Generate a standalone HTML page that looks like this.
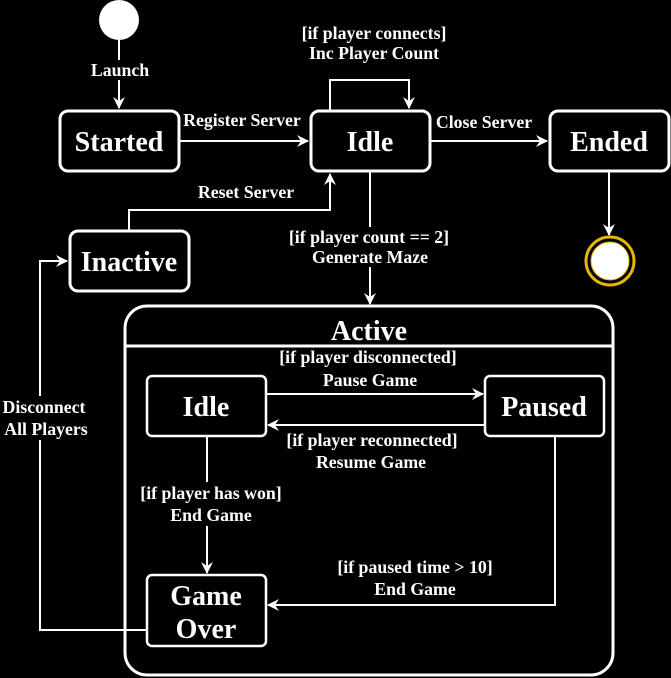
<!DOCTYPE html>
<html><head><meta charset="utf-8"><style>
html,body{margin:0;padding:0;background:#000;}
svg{display:block}
text{font-family:"Liberation Serif",serif;font-weight:bold;fill:#fff;text-anchor:middle}
.s{font-size:17.8px}
.b{font-size:28px}
</style></head><body>
<svg width="671" height="678" viewBox="0 0 671 678" xmlns="http://www.w3.org/2000/svg">
<defs>
<marker id="a" markerWidth="12" markerHeight="12" refX="11" refY="6" orient="auto" markerUnits="userSpaceOnUse">
<path d="M0,0 L12,6 L0,12 L4,6 Z" fill="#fff"/>
</marker>
</defs>
<g stroke="#fff" fill="none" stroke-width="2">
<circle cx="119" cy="20" r="20" fill="#fff" stroke="none"/>
<line x1="119" y1="40" x2="119" y2="108" marker-end="url(#a)"/>
<rect x="60" y="111" width="119" height="60" rx="8" stroke-width="3"/>
<rect x="311" y="111" width="119" height="60" rx="8" stroke-width="3"/>
<rect x="550" y="111" width="119" height="60" rx="8" stroke-width="3"/>
<rect x="70" y="231" width="119" height="60" rx="8" stroke-width="3"/>
<circle cx="610" cy="261" r="24" stroke="#e6b800" stroke-width="3" fill="#000"/>
<circle cx="610" cy="261" r="19" fill="#fff" stroke="#e6b800" stroke-width="1"/>
<line x1="179" y1="141" x2="308" y2="141" marker-end="url(#a)"/>
<polyline points="330,111 330,80 409,80 409,108" marker-end="url(#a)"/>
<line x1="430" y1="141" x2="547" y2="141" marker-end="url(#a)"/>
<line x1="609" y1="171" x2="609" y2="235" marker-end="url(#a)"/>
<line x1="370" y1="171" x2="370" y2="304" marker-end="url(#a)"/>
<polyline points="129,231 129,210 330,210 330,174" marker-end="url(#a)"/>
<polyline points="146,630 40,630 40,261 67,261" marker-end="url(#a)"/>
<rect x="125" y="306" width="488" height="369" rx="22" stroke-width="3"/>
<line x1="125" y1="346" x2="613" y2="346" stroke-width="3"/>
<rect x="147" y="376" width="119" height="60" rx="5" stroke-width="2.5"/>
<rect x="485" y="376" width="119" height="60" rx="5" stroke-width="2.5"/>
<rect x="147" y="575" width="119" height="71" rx="5" stroke-width="2.5"/>
<line x1="266" y1="394" x2="483" y2="394" marker-end="url(#a)"/>
<line x1="485" y1="425" x2="268" y2="425" marker-end="url(#a)"/>
<line x1="207" y1="436" x2="207" y2="573" marker-end="url(#a)"/>
<polyline points="555,436 555,605 268,605" marker-end="url(#a)"/>
</g>
<!-- label backgrounds -->
<g fill="#000">
<rect x="88" y="60" width="64" height="20"/>
<rect x="287" y="227" width="164" height="40"/>
<rect x="0" y="396" width="92" height="44"/>
<rect x="138" y="482" width="146" height="44"/>
</g>
<text class="b" x="119" y="151">Started</text>
<text class="b" x="370" y="151">Idle</text>
<text class="b" x="609" y="151">Ended</text>
<text class="b" x="129" y="271">Inactive</text>
<text class="b" x="369" y="340">Active</text>
<text class="b" x="206" y="416">Idle</text>
<text class="b" x="544" y="416">Paused</text>
<text class="b" x="206" y="605">Game</text>
<text class="b" x="206" y="638">Over</text>
<text class="s" x="120" y="76">Launch</text>
<text class="s" x="242" y="126">Register Server</text>
<text class="s" x="374" y="39">[if player connects]</text>
<text class="s" x="374" y="59">Inc Player Count</text>
<text class="s" x="484" y="128">Close Server</text>
<text class="s" x="246" y="198">Reset Server</text>
<text class="s" x="369" y="243">[if player count == 2]</text>
<text class="s" x="370" y="263">Generate Maze</text>
<text class="s" x="44" y="413">Disconnect</text>
<text class="s" x="46" y="435">All Players</text>
<text class="s" x="368" y="363">[if player disconnected]</text>
<text class="s" x="370" y="386">Pause Game</text>
<text class="s" x="372" y="446">[if player reconnected]</text>
<text class="s" x="371" y="468">Resume Game</text>
<text class="s" x="211" y="499">[if player has won]</text>
<text class="s" x="211" y="521">End Game</text>
<text class="s" x="415" y="573">[if paused time &gt; 10]</text>
<text class="s" x="415" y="595">End Game</text>
</svg>
</body></html>
